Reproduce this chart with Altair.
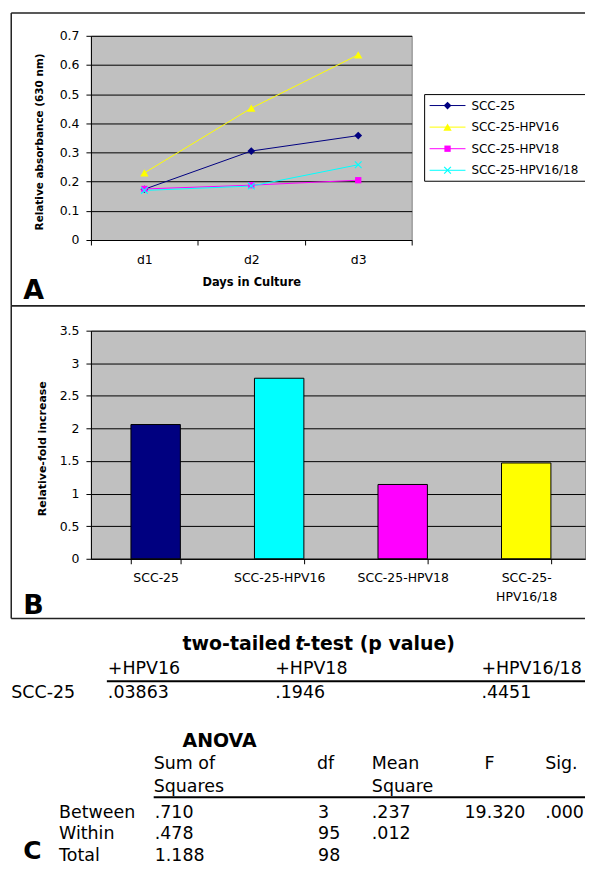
import altair as alt
import pandas as pd

# ---------------- Panel A data ----------------
days = ["d1", "d2", "d3"]
series_names = ["SCC-25", "SCC-25-HPV16", "SCC-25-HPV18", "SCC-25-HPV16/18"]
absorb_scc25 = [0.174, 0.305, 0.358]
absorb_hpv16 = [0.230, 0.452, 0.635]
absorb_hpv18 = [0.175, 0.188, 0.205]
absorb_hpv1618 = [0.170, 0.185, 0.258]
a_yticks = [0, 0.1, 0.2, 0.3, 0.4, 0.5, 0.6, 0.7]
line_colors = ["#000080", "#FFFF00", "#FF00FF", "#00FFFF"]

# ---------------- Panel B data ----------------
fold_categories = ["SCC-25", "SCC-25-HPV16", "SCC-25-HPV18", "SCC-25-HPV16/18"]
fold_increase = [2.06, 2.77, 1.14, 1.47]
b_yticks = [0, 0.5, 1, 1.5, 2, 2.5, 3, 3.5]
bar_colors = ["#000080", "#00FFFF", "#FF00FF", "#FFFF00"]

# ---------------- Panel C data (tables) ----------------
ttest_title_parts = ["two-tailed", "t", "-test (p value)"]
ttest_cols = ["+HPV16", "+HPV18", "+HPV16/18"]
ttest_row_label = "SCC-25"
ttest_p = [".03863", ".1946", ".4451"]
anova_title = "ANOVA"
anova_header1 = ["Sum of", "df", "Mean", "F", "Sig."]
anova_header2 = ["Squares", "", "Square", "", ""]
anova_rows = ["Between", "Within", "Total"]
anova_ss = [".710", ".478", "1.188"]
anova_df = ["3", "95", "98"]
anova_ms = [".237", ".012", ""]
anova_f = ["19.320", "", ""]
anova_sig = [".000", "", ""]

# ---------------- layout (pixels, relative to each panel's plot origin) ----------------
FONT = "DejaVu Sans"
LEFT = -80                       # left edge of the panel frames
RIGHT = 496                      # frames / rules run to the right edge of the page
ttest_title_x = [92, 205, 213]
ttest_title_y = -5
ttest_col_x = [17, 185, 392]
ttest_label_x = -80
ttest_header_y = 20
ttest_row_y = 44
anova_title_xy = (92, 92)
anova_header_x = [63, 227, 282, 395, 456]
anova_value_x = [64, 228, 282, 375, 456]
anova_header_y = [115, 138]
anova_rule_y = 148.5
anova_row_y = [164, 185.5, 207]
anova_label_x = -32
legend_box = (335, 59, 146)
legend_seg = (340, 376)
legend_marker_x = 358
legend_text_x = 382

one = alt.Data(values=[{}])


def frame(top, bottom):
    """Open frame (left, top, bottom edges) around a panel; the right edge lies off the page."""
    kw = dict(color="#222222", strokeWidth=1.5)
    return [
        alt.Chart(one).mark_rule(**kw).encode(x=alt.value(LEFT), x2=alt.value(RIGHT), y=alt.value(top)),
        alt.Chart(one).mark_rule(**kw).encode(x=alt.value(LEFT), x2=alt.value(RIGHT), y=alt.value(bottom)),
        alt.Chart(one).mark_rule(**kw).encode(x=alt.value(LEFT), y=alt.value(top), y2=alt.value(bottom)),
    ]


# ================= Panel A =================
rows = []
for name, vals in zip(series_names, [absorb_scc25, absorb_hpv16, absorb_hpv18, absorb_hpv1618]):
    for d, v in zip(days, vals):
        rows.append({"series": name, "day": d, "value": v})
df_a = pd.DataFrame(rows)

xa = alt.X(
    "day:N", sort=days, bandPosition=0.5,
    scale=alt.Scale(type="band", paddingInner=0, paddingOuter=0),
    axis=alt.Axis(title="Days in Culture", tickBand="extent", labelAngle=0,
                  tickSize=5, labelPadding=9, labelFontSize=12.5,
                  titleFontSize=11.5, titleY=43, titleBaseline="middle"),
)
ya = alt.Y(
    "value:Q", scale=alt.Scale(domain=[0, 0.7], nice=False),
    axis=alt.Axis(values=a_yticks, format="~g", title="Relative absorbance (630 nm)",
                  grid=True, gridColor="black", gridWidth=1, tickSize=5,
                  labelPadding=7, labelFontSize=12.5, titleFontSize=10.5,
                  titleX=-52, titleY=106, titleBaseline="middle"),
)
color_a = alt.Color("series:N", scale=alt.Scale(domain=series_names, range=line_colors), legend=None)

base_a = alt.Chart(df_a)
lines = base_a.mark_line(strokeWidth=1).encode(x=xa, y=ya, color=color_a, detail="series:N")

marker_specs = [
    ("SCC-25", "diamond", 60, True),
    ("SCC-25-HPV16", "triangle-up", 70, True),
    ("SCC-25-HPV18", "square", 40, True),
    ("SCC-25-HPV16/18", "M-1,-1L1,1M-1,1L1,-1", 45, False),
]
point_layers = []
for name, shp, sz, fl in marker_specs:
    point_layers.append(
        base_a.transform_filter(alt.datum.series == name)
        .mark_point(shape=shp, size=sz, filled=fl, opacity=1, strokeWidth=1.2)
        .encode(x=xa, y=ya, color=color_a)
    )
main_a = alt.layer(lines, *point_layers)

# legend drawn as a small layered key with its own point scale for the rows
df_leg = pd.DataFrame({"series": series_names})
y_leg = alt.Y("series:N", sort=series_names,
              scale=alt.Scale(type="point", domain=series_names, range=[70, 135], padding=0),
              axis=None)
leg_base = alt.Chart(df_leg)
lkw = dict(color="black", strokeWidth=1)
leg_fill = alt.Chart(one).mark_rect(fill="white").encode(
    x=alt.value(legend_box[0]), x2=alt.value(RIGHT),
    y=alt.value(legend_box[1]), y2=alt.value(legend_box[2]))
leg_edges = [
    alt.Chart(one).mark_rule(**lkw).encode(x=alt.value(legend_box[0]), x2=alt.value(RIGHT), y=alt.value(legend_box[1])),
    alt.Chart(one).mark_rule(**lkw).encode(x=alt.value(legend_box[0]), x2=alt.value(RIGHT), y=alt.value(legend_box[2])),
    alt.Chart(one).mark_rule(**lkw).encode(x=alt.value(legend_box[0]), y=alt.value(legend_box[1]), y2=alt.value(legend_box[2])),
]
leg_lines = leg_base.mark_rule(strokeWidth=1).encode(
    x=alt.value(legend_seg[0]), x2=alt.value(legend_seg[1]), y=y_leg, color=color_a)
leg_points = []
for name, shp, sz, fl in marker_specs:
    leg_points.append(
        leg_base.transform_filter(alt.datum.series == name)
        .mark_point(shape=shp, size=sz, filled=fl, opacity=1, strokeWidth=1.2)
        .encode(x=alt.value(legend_marker_x), y=y_leg, color=color_a)
    )
leg_text = leg_base.mark_text(align="left", baseline="middle", font=FONT, fontSize=12,
                              color="black").encode(x=alt.value(legend_text_x), y=y_leg, text="series:N")
legend_a = alt.layer(leg_fill, *leg_edges, leg_lines, *leg_points, leg_text)

letter_a = alt.Chart(one).mark_text(text="A", font=FONT, fontWeight="bold", fontSize=27,
                                    align="left", baseline="alphabetic", color="black").encode(
    x=alt.value(-68), y=alt.value(264))

panel_a = alt.layer(main_a, legend_a, *frame(-23, 271), letter_a).resolve_scale(y="independent").properties(
    width=322, height=205, view=alt.ViewBackground(fill="#C0C0C0", stroke="#808080"))

# ================= Panel B =================
df_b = pd.DataFrame({"category": fold_categories, "fold": fold_increase})
bars = alt.Chart(df_b).mark_bar(stroke="black", strokeWidth=1).encode(
    x=alt.X("category:N", sort=fold_categories,
            scale=alt.Scale(type="band", paddingInner=0.6, paddingOuter=0.3, align=0.54),
            axis=alt.Axis(title=None, tickBand="extent", labelAngle=0, tickSize=5,
                          labelPadding=8, labelFontSize=12.5, labelLineHeight=19,
                          labelExpr="datum.value == 'SCC-25-HPV16/18' ? ['SCC-25-', 'HPV16/18'] : datum.value")),
    y=alt.Y("fold:Q", scale=alt.Scale(domain=[0, 3.5], nice=False),
            axis=alt.Axis(values=b_yticks, format="~g", title="Relative-fold increase",
                          grid=True, gridColor="black", gridWidth=1, tickSize=5,
                          labelPadding=7, labelFontSize=12.5, titleFontSize=11,
                          titleX=-49, titleY=118, titleBaseline="middle")),
    color=alt.Color("category:N", scale=alt.Scale(domain=fold_categories, range=bar_colors), legend=None),
)
letter_b = alt.Chart(one).mark_text(text="B", font=FONT, fontWeight="bold", fontSize=27,
                                    align="left", baseline="alphabetic", color="black").encode(
    x=alt.value(-68), y=alt.value(284))
panel_b = alt.layer(bars, *frame(-25, 289), letter_b).properties(
    width=496, height=229, view=alt.ViewBackground(fill="#C0C0C0", stroke="#808080"))

# ================= Panel C =================
reg, bold, ital = [], [], []
for t, x in zip(ttest_title_parts, ttest_title_x):
    (ital if t == "t" else bold).append({"text": t, "px": x, "py": ttest_title_y})
for t, x in zip(ttest_cols, ttest_col_x):
    reg.append({"text": t, "px": x, "py": ttest_header_y})
reg.append({"text": ttest_row_label, "px": ttest_label_x, "py": ttest_row_y})
for t, x in zip(ttest_p, ttest_col_x):
    reg.append({"text": t, "px": x, "py": ttest_row_y})
bold.append({"text": anova_title, "px": anova_title_xy[0], "py": anova_title_xy[1]})
for hdr, y in zip([anova_header1, anova_header2], anova_header_y):
    for t, x in zip(hdr, anova_header_x):
        if t:
            reg.append({"text": t, "px": x, "py": y})
for i, (lab, y) in enumerate(zip(anova_rows, anova_row_y)):
    reg.append({"text": lab, "px": anova_label_x, "py": y})
    for col, x in zip([anova_ss, anova_df, anova_ms, anova_f, anova_sig], anova_value_x):
        if col[i]:
            reg.append({"text": col[i], "px": x, "py": y})


def text_layer(items, **kw):
    return alt.Chart(pd.DataFrame(items)).mark_text(
        align="left", baseline="middle", font=FONT, color="black", **kw).encode(
        x=alt.X("px:Q", scale=None, axis=None), y=alt.Y("py:Q", scale=None, axis=None), text="text:N")


t_reg = text_layer(reg, fontSize=17.5)
t_bold = text_layer(bold, fontSize=19, fontWeight="bold")
t_ital = text_layer(ital, fontSize=19, fontWeight="bold", fontStyle="italic")
rule_t = alt.Chart(one).mark_rule(color="black", strokeWidth=2).encode(
    x=alt.value(16), x2=alt.value(RIGHT), y=alt.value(32))
rule_an = alt.Chart(one).mark_rule(color="black", strokeWidth=2).encode(
    x=alt.value(63), x2=alt.value(RIGHT), y=alt.value(anova_rule_y))
letter_c = alt.Chart(one).mark_text(text="C", font=FONT, fontWeight="bold", fontSize=25,
                                    align="left", baseline="alphabetic", color="black").encode(
    x=alt.value(-68), y=alt.value(210))
panel_c = alt.layer(t_reg, t_bold, t_ital, rule_t, rule_an, letter_c).properties(width=480, height=205)

chart = alt.vconcat(panel_a, panel_b, panel_c, spacing=91, bounds="flush").properties(
    padding={"left": 1.25, "top": 1.25, "right": 0, "bottom": 0}
).resolve_scale(
    color="independent"
).configure_axis(
    labelFont=FONT, labelColor="black", domainColor="black", tickColor="black",
    titleFont=FONT, titleColor="black", titleFontWeight="bold", domainWidth=1, tickWidth=1,
).configure_view(stroke="transparent")

chart.save("out.html", embed_options={"renderer": "svg", "actions": False})
